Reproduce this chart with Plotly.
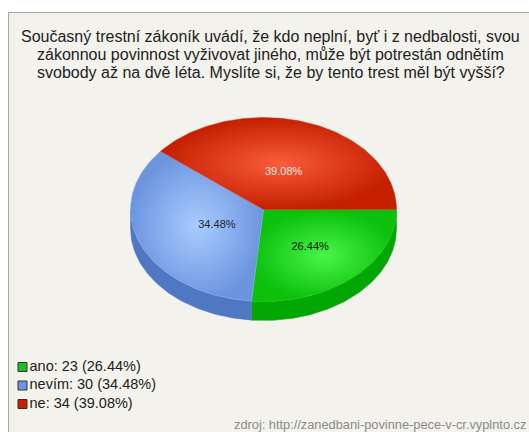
import numpy as np
import plotly.graph_objects as go

# ---- data ----
categories = ["ano", "nevím", "ne"]
counts = [23, 30, 34]
percent_labels = ["26.44%", "34.48%", "39.08%"]
legend_labels = ["ano: 23 (26.44%)", "nevím: 30 (34.48%)", "ne: 34 (39.08%)"]
title_lines = ["Současný trestní zákoník uvádí, že kdo neplní, byť i z nedbalosti, svou",
               "zákonnou povinnost vyživovat jiného, může být potrestán odnětím",
               "svobody až na dvě léta. Myslíte si, že by tento trest měl být vyšší?"]
source_text = "zdroj: http://zanedbani-povinne-pece-v-cr.vyplnto.cz"

# ---- style / layout constants ----
W, H = 529, 432
CX, CY, RX, RY, DEPTH = 263.5, 209.5, 133, 92, 19
top_colors = ["#18d418", "#86aef2", "#d8301a"]
grad_scales = [
    [[0, "#48f548"], [1, "#0cc00c"]],
    [[0, "#a8ccff"], [1, "#6d95de"]],
    [[0, "#fa5c3c"], [1, "#c42000"]],
]
side_colors = ["#03a703", "#5078c2", "#a51a00"]
legend_colors = ["#1cc21c", "#6b97e0", "#c82000"]
label_colors = ["#111111", "#222233", "#fde8e0"]
FONT = "Liberation Sans, Arial, sans-serif"

total = sum(counts)
fracs = [c / total for c in counts]

def ell(t_deg, dy=0.0, r=1.0):
    t = np.radians(t_deg)
    return CX + RX * r * np.cos(t), CY - RY * r * np.sin(t) + dy

fig = go.Figure()

# slices: start at 3 o'clock, go clockwise
bounds = [0.0]
for f in fracs:
    bounds.append(bounds[-1] - 360 * f)

# side (depth) of the front half
for i in range(len(counts)):
    a0, a1 = bounds[i], bounds[i + 1]  # a0 > a1
    lo, hi = max(a1, -180.0), min(a0, 0.0)
    if lo >= hi:
        continue
    ts = np.linspace(hi, lo, 80)
    xt, yt = ell(ts)
    xb, yb = ell(ts[::-1], dy=DEPTH)
    xs = np.concatenate([xt, xb, xt[:1]])
    ys = np.concatenate([yt, yb, yt[:1]])
    fig.add_trace(go.Scatter(x=xs, y=ys, mode="lines", fill="toself",
                             fillcolor=side_colors[i], line=dict(width=0.5, color=side_colors[i]),
                             hoverinfo="skip", showlegend=False))

# top faces
for i in range(len(counts)):
    a0, a1 = bounds[i], bounds[i + 1]
    ts = np.linspace(a0, a1, 120)
    xe, ye = ell(ts)
    xs = np.concatenate([[CX], xe, [CX]])
    ys = np.concatenate([[CY], ye, [CY]])
    fig.add_trace(go.Scatter(x=xs, y=ys, mode="lines", fill="toself",
                             fillcolor=top_colors[i],
                             fillgradient=dict(type="radial", colorscale=grad_scales[i]),
                             line=dict(width=0.5, color=top_colors[i]),
                             hoverinfo="skip", showlegend=False))

# percentage labels
lab_r = [0.52, 0.38, 0.45]
lx, ly = [], []
for i in range(len(counts)):
    mid = (bounds[i] + bounds[i + 1]) / 2
    x, y = ell(mid, r=lab_r[i])
    lx.append(float(x)); ly.append(float(y) + 2)
fig.add_trace(go.Scatter(x=lx, y=ly, mode="text", text=percent_labels,
                         textfont=dict(family=FONT, size=11, color=label_colors),
                         hoverinfo="skip", showlegend=False))

# custom legend
LEG_X, LEG_TX, LEG_Y0, LEG_DY = 22.5, 29.5, 367, 18.5
leg_y = [LEG_Y0 + k * LEG_DY for k in range(len(categories))]
fig.add_trace(go.Scatter(x=[LEG_X] * len(categories), y=leg_y, mode="markers",
                         marker=dict(symbol="square", size=9, color=legend_colors,
                                     line=dict(width=1, color="#333333")),
                         hoverinfo="skip", showlegend=False))
fig.add_trace(go.Scatter(x=[LEG_TX] * len(categories), y=leg_y, mode="text",
                         text=legend_labels, textposition="middle right",
                         textfont=dict(family=FONT, size=14.5, color="#222222"),
                         hoverinfo="skip", showlegend=False))

TITLE_Y0, TITLE_DY = 36, 18.3
annotations = [
    dict(x=270.5, y=TITLE_Y0 + k * TITLE_DY, xref="x", yref="y", text=line, showarrow=False,
         font=dict(family=FONT, size=16, color="#222222"),
         xanchor="center", yanchor="middle")
    for k, line in enumerate(title_lines)
]
annotations.append(dict(x=232, y=424, xref="x", yref="y", text=source_text, showarrow=False,
                        font=dict(family=FONT, size=12.8, color="#8a8a8a"),
                        xanchor="left", yanchor="middle"))

fig.update_layout(
    width=W, height=H,
    margin=dict(l=0, r=0, t=0, b=0),
    paper_bgcolor="white", plot_bgcolor="rgba(0,0,0,0)",
    xaxis=dict(range=[0, W], domain=[0, 1], visible=False, fixedrange=True),
    yaxis=dict(range=[H, 0], domain=[0, 1], visible=False, fixedrange=True),
    showlegend=False,
    shapes=[dict(type="rect", xref="x", yref="y", x0=8.5, y0=12.5, x1=W + 5, y1=H + 5,
                 fillcolor="#f3f2ec", line=dict(color="#a8a8a0", width=1), layer="below")],
    annotations=annotations,
)

fig.write_html("out.html", config={"displayModeBar": False},
               post_script="document.body.style.margin='0';document.body.style.overflow='hidden';")
